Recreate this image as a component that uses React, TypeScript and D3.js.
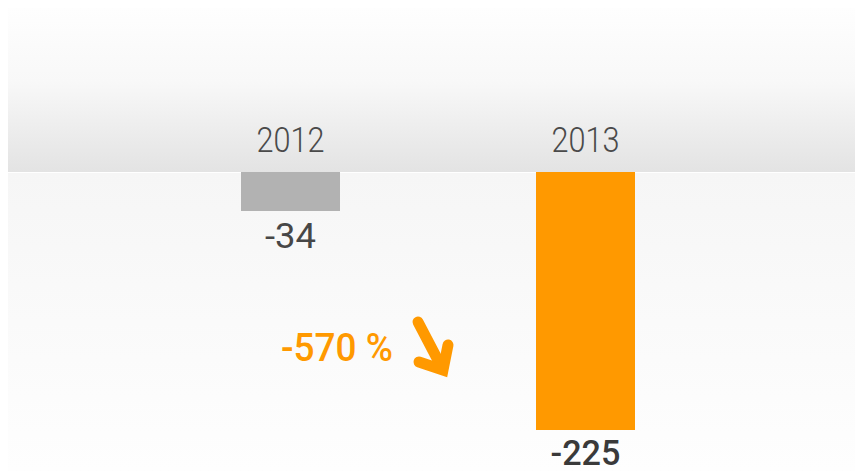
import React from "react";
import * as d3 from "d3";

// data
const years = ["2012", "2013"];
const values = [-34, -225];
const barColors = ["#b2b2b2", "#ff9900"];
const changeLabel = "-570 %";

const W = 855;
const H = 471;
const panel = { left: 8, top: 8, axis: 172 };

const App = () => {
  // scales
  const x = d3.scalePoint<string>().domain(years).range([290.5, 585.5]);
  const y = d3.scaleLinear().domain([0, -225]).range([panel.axis, 430]);
  const barWidth = 99;

  return (
    <svg
      width={W}
      height={H}
      style={{ position: "absolute", left: 0, top: 0 }}
      fontFamily="Roboto, 'Noto Sans', sans-serif"
    >
      <defs>
        <linearGradient id="topBg" x1="0" y1="0" x2="0" y2="1">
          <stop offset="0%" stopColor="#fefefe" />
          <stop offset="45%" stopColor="#f8f8f8" />
          <stop offset="100%" stopColor="#e3e3e3" />
        </linearGradient>
        <linearGradient id="bottomBg" x1="0" y1="0" x2="0" y2="1">
          <stop offset="0%" stopColor="#f6f6f6" />
          <stop offset="100%" stopColor="#fefefe" />
        </linearGradient>
      </defs>

      <rect x={0} y={0} width={W} height={H} fill="#ffffff" />
      <rect
        x={panel.left}
        y={panel.top}
        width={W - panel.left}
        height={panel.axis - panel.top}
        fill="url(#topBg)"
      />
      <rect
        x={panel.left}
        y={panel.axis + 1}
        width={W - panel.left}
        height={H - panel.axis - 1}
        fill="url(#bottomBg)"
      />

      {/* year labels */}
      {years.map((yr) => (
        <text
          key={yr}
          x={x(yr)}
          y={152}
          textAnchor="middle"
          fontSize={35}
          fontWeight={300}
          fill="#4a4a4a"
          textLength={68}
          lengthAdjust="spacingAndGlyphs"
        >
          {yr}
        </text>
      ))}

      {/* bars */}
      {years.map((yr, i) => (
        <rect
          key={yr}
          x={(x(yr) as number) - barWidth / 2}
          y={y(0)}
          width={barWidth}
          height={y(values[i]) - y(0)}
          fill={barColors[i]}
        />
      ))}

      {/* value labels */}
      {years.map((yr, i) => (
        <text
          key={yr}
          x={x(yr)}
          y={y(values[i]) + (i === 1 ? 35 : 37)}
          textAnchor="middle"
          fontSize={35}
          fontWeight={i === 1 ? 500 : 400}
          fill={i === 1 ? "#3a3a3a" : "#474747"}
          textLength={i === 1 ? 70 : 51}
          lengthAdjust="spacingAndGlyphs"
        >
          {values[i]}
        </text>
      ))}

      {/* change annotation */}
      <text
        x={281}
        y={361}
        fontSize={38}
        fontWeight={500}
        fill="#ff9900"
        textLength={112}
        lengthAdjust="spacingAndGlyphs"
      >
        {changeLabel}
      </text>
      <g
        fill="none"
        stroke="#ff9900"
        strokeWidth={11}
        strokeLinecap="round"
        strokeLinejoin="miter"
      >
        <path d="M418,322 L441,366" />
        <path d="M419,362 L443,370 L448,345" />
      </g>
    </svg>
  );
};

export default App;
